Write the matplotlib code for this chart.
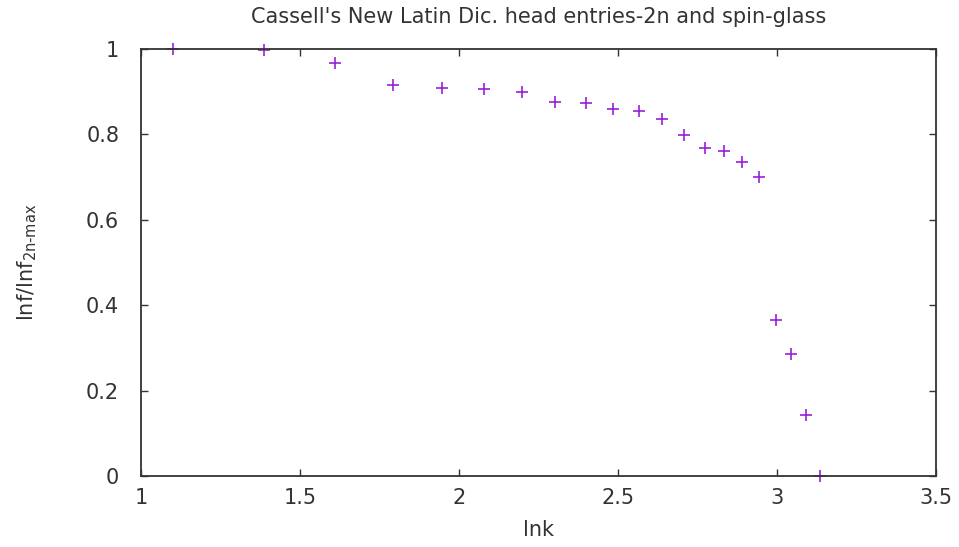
import matplotlib
import matplotlib.pyplot as plt

matplotlib.use('Agg')

# x = ln k, y = ln f / ln f_{2n-max}
lnk = [1.099, 1.386, 1.609, 1.792, 1.946, 2.079, 2.197, 2.303, 2.398, 2.485,
       2.565, 2.639, 2.708, 2.773, 2.833, 2.890, 2.944, 2.996, 3.045, 3.091, 3.135]
ratio = [1.0, 0.998, 0.967, 0.915, 0.909, 0.906, 0.900, 0.876, 0.873, 0.859,
         0.854, 0.837, 0.799, 0.767, 0.761, 0.735, 0.701, 0.365, 0.286, 0.144, 0.0]

xticks = [1, 1.5, 2, 2.5, 3, 3.5]
yticks = [0, 0.2, 0.4, 0.6, 0.8, 1]

plt.rcParams['font.family'] = 'DejaVu Sans'

fig = plt.figure(figsize=(9.59, 5.47), dpi=100)
ax = fig.add_axes([0.1474, 0.1298, 0.8284, 0.7806])

ax.plot(lnk, ratio, linestyle='none', marker='+', color='#9a1fd8',
        markersize=9, markeredgewidth=1.2, clip_on=False)

ax.set_xlim(1, 3.5)
ax.set_ylim(0, 1)
ax.set_xticks(xticks)
ax.set_xticklabels([f'{t:g}' for t in xticks])
ax.set_yticks(yticks)
ax.set_yticklabels([f'{t:g}' for t in yticks])

ax.tick_params(axis='both', direction='in', length=5, width=1, top=True,
               right=True, labelsize=15, colors='#333333')
ax.tick_params(axis='x', pad=9)
ax.tick_params(axis='y', pad=16)
for s in ax.spines.values():
    s.set_linewidth(1.3)
    s.set_color('#333333')

ax.set_xlabel('lnk', fontsize=15, color='#333333', labelpad=8)
ax.set_ylabel(r'lnf/lnf$_{\mathregular{2n\text{-}max}}$', fontsize=15,
              color='#333333', labelpad=34)
ax.set_title("Cassell's New Latin Dic. head entries-2n and spin-glass",
             fontsize=15, color='#333333', pad=19)

fig.savefig('out.png', dpi=100)
